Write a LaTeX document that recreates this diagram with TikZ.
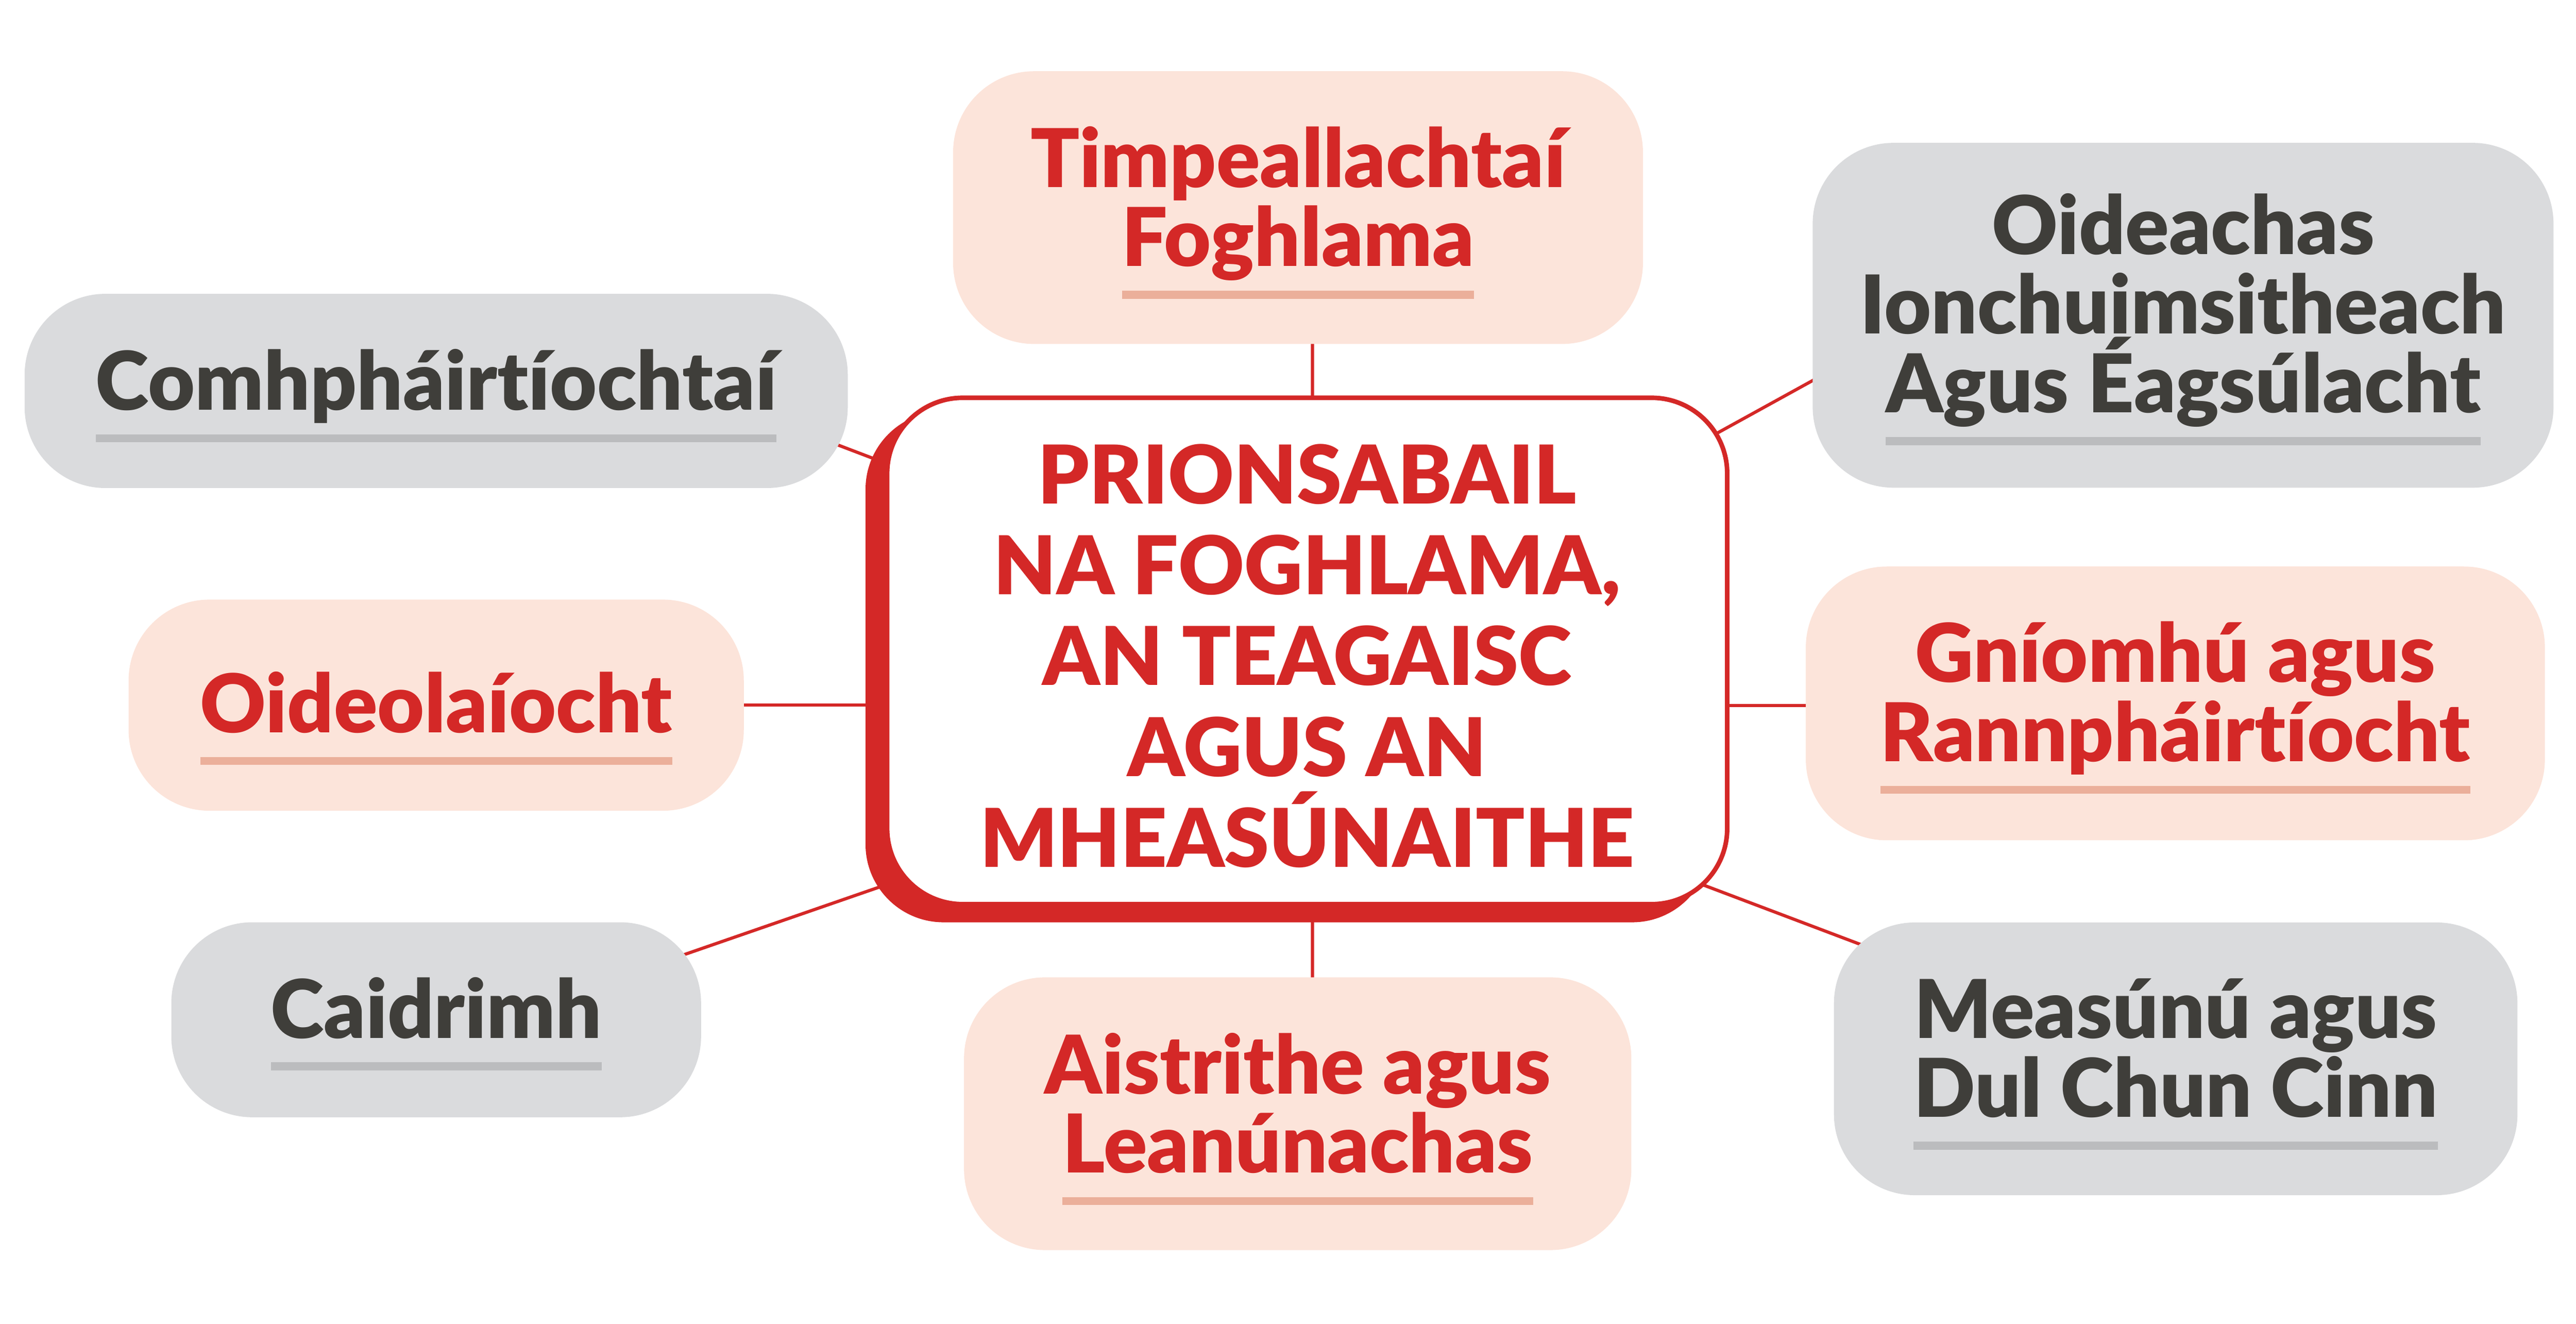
\documentclass[tikz,border=0pt]{standalone}
\usepackage{fontspec}
\setmainfont{Lato}[BoldFont={Lato Black}, Ligatures=NoCommon]
\usetikzlibrary{calc,shadows}
\pgfdeclarelayer{background}
\pgfsetlayers{background,main}

\definecolor{mapred}{HTML}{D42827}
\definecolor{mappink}{HTML}{FCE4DA}
\definecolor{mappinkbar}{HTML}{EBAF9A}
\definecolor{mapgray}{HTML}{DADBDD}
\definecolor{mapgraybar}{HTML}{BBBCBE}
\definecolor{mapink}{HTML}{3F3E3A}

% lines centred, first baseline is the baseline of the whole block
\newcommand{\stack}[1]{\vtop{\lineskiplimit=-\maxdimen\halign{\hfil##\hfil\cr#1\crcr}}}
% bar under a line of text
\newcommand{\ubar}[2]{\sbox0{#2}\rlap{\color{#1}\rule[-0.92cm]{\wd0}{0.23cm}}\usebox0}

\tikzset{
	box/.style={rounded corners=2.3cm, inner sep=0pt},
	greybox/.style={box, fill=mapgray},
	pinkbox/.style={box, fill=mappink},
	boxtext/.style={anchor=base, inner sep=0pt, font=\fontsize{65.5}{64}\selectfont\bfseries},
	greytext/.style={boxtext, text=mapink},
	pinktext/.style={boxtext, text=mapred},
	coretext/.style={anchor=base, inner sep=0pt, text=mapred, font=\fontsize{65.5}{73.4}\selectfont\bfseries},
	link/.style={draw=mapred, line width=0.09cm, shorten <=-1cm, shorten >=-1cm},
	corebox/.style={rounded corners=2.15cm, draw=mapred, fill=white, line width=0.13cm,
		minimum width=23.88cm, minimum height=14.39cm, inner sep=0pt,
		drop shadow={shadow xshift=-0.55cm, shadow yshift=-0.45cm, fill=mapred, draw=mapred, opacity=1}}
}

\begin{document}
\begin{tikzpicture}
	\useasboundingbox (0,0) rectangle (73.23,37.62);
	
	%%%%% BOXES %%%%%
	\node[greybox, minimum width=23.40cm, minimum height=5.52cm] (comh) at (12.40, 26.51) {};
	\node[pinkbox, minimum width=19.61cm, minimum height=7.75cm] (timp) at (36.90, 31.72) {};
	\node[greybox, minimum width=21.06cm, minimum height=9.80cm] (oach) at (62.06, 28.66) {};
	\node[pinkbox, minimum width=17.49cm, minimum height=6.00cm] (oide) at (12.40, 17.58) {};
	\node[pinkbox, minimum width=21.01cm, minimum height=7.78cm] (gnio) at (61.84, 17.63) {};
	\node[greybox, minimum width=15.06cm, minimum height=5.54cm] (caid) at (12.40, 8.64) {};
	\node[pinkbox, minimum width=18.97cm, minimum height=7.75cm] (aist) at (36.89, 5.97) {};
	\node[greybox, minimum width=19.43cm, minimum height=7.75cm] (meas) at (61.85, 7.53) {};
	
	\node[corebox] (core) at (37.16, 19.12) {};
	
	%%%%% TEXTS %%%%%
	\node[greytext] (comh-t) at ([yshift=-5.4mm]comh.center) {\ubar{mapgraybar}{Comhpháirtíochtaí}};
	\node[pinktext] (timp-t) at ([yshift=5.8mm]timp.center) {\stack{Timpeallachtaí\cr\ubar{mappinkbar}{Foghlama}}};
	\node[greytext] (oach-t) at ([yshift=17.3mm]oach.center) {\stack{Oideachas\cr Ionchuimsitheach\cr\ubar{mapgraybar}{Agus Éagsúlacht}}};
	\node[pinktext] (oide-t) at ([yshift=-7.8mm]oide.center) {\ubar{mappinkbar}{Oideolaíocht}};
	\node[pinktext] (gnio-t) at ([yshift=6mm]gnio.center) {\stack{Gníomhú agus\cr\ubar{mappinkbar}{Rannpháirtíocht}}};
	\node[greytext] (caid-t) at ([yshift=-5.2mm]caid.center) {\ubar{mapgraybar}{Caidrimh}};
	\node[pinktext] (aist-t) at ([yshift=5.7mm]aist.center) {\stack{Aistrithe agus\cr\ubar{mappinkbar}{Leanúnachas}}};
	\node[greytext] (meas-t) at ([yshift=5.9mm]meas.center) {\stack{Measúnú agus\cr\ubar{mapgraybar}{Dul Chun Cinn}}};
	
	\node[coretext] (core-t) at ([yshift=41.8mm]core.center) {\stack{PRIONSABAIL\cr NA FOGHLAMA,\cr AN TEAGAISC\cr AGUS AN\cr MHEASÚNAITHE}};
	
	%%%%% LINKS %%%%%
	\begin{pgfonlayer}{background}
		\draw[link] ([xshift=4.1mm]timp.south) -- ([xshift=1.5mm]core.north);
		\draw[link] ([xshift=4.2mm]aist.north) -- ([xshift=1.5mm]core.south);
		\draw[link] (oide.east) -- (oide.east -| core.west);
		\draw[link] ([yshift=-0.6mm]gnio.west) -- ([yshift=-0.6mm]gnio.west -| core.east);
		\draw[link] (comh.-8) -- (core.156);
		\draw[link] (oach.190) -- (core.28);
		\draw[link] (caid.15) -- (core.209);
		\draw[link] (meas.160) -- (core.-30);
	\end{pgfonlayer}
\end{tikzpicture}
\end{document}
